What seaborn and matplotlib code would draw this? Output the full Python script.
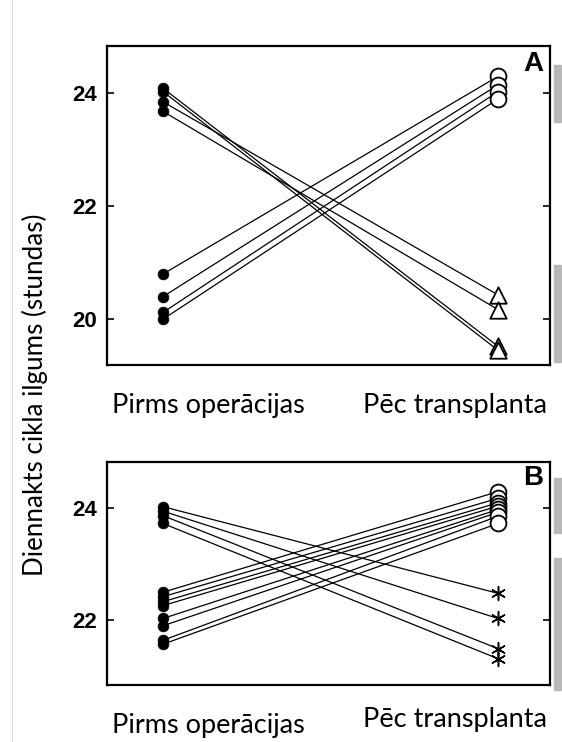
import numpy as np
import pandas as pd
import matplotlib
matplotlib.use("Agg")
import matplotlib.pyplot as plt
from matplotlib.patches import Rectangle
from matplotlib.lines import Line2D
import seaborn as sns

# ---------------- data ----------------
conditions = ["Pirms operācijas", "Pēc transplanta"]
ylabel = "Diennakts cikla ilgums (stundas)"

# Panel A
a_up_before = [20.80, 20.40, 20.12, 20.00]
a_up_after = [24.30, 24.15, 24.03, 23.90]
a_down_before = [24.09, 24.03, 23.85, 23.68]
a_down_after = [19.52, 19.45, 20.43, 20.17]

# Panel B
b_up_before = [22.50, 22.42, 22.33, 22.26, 22.03, 21.90, 21.64, 21.57]
b_up_after = [24.30, 24.18, 24.10, 24.04, 23.98, 23.93, 23.86, 23.73]
b_down_before = [24.03, 23.95, 23.87, 23.73]
b_down_after = [22.48, 22.03, 21.49, 21.31]

a_ticks = [20, 22, 24]
b_ticks = [22, 24]


def long_df(up_b, up_a, dn_b, dn_a):
    rows = []
    sid = 0
    for b, a in zip(up_b, up_a):
        rows.append((sid, 0, b, "before", "up"))
        rows.append((sid, 1, a, "after", "up"))
        sid += 1
    for b, a in zip(dn_b, dn_a):
        rows.append((sid, 0, b, "before", "down"))
        rows.append((sid, 1, a, "after", "down"))
        sid += 1
    return pd.DataFrame(rows, columns=["subject", "x", "y", "phase", "dir"])


dfA = long_df(a_up_before, a_up_after, a_down_before, a_down_after)
dfB = long_df(b_up_before, b_up_after, b_down_before, b_down_after)

sns.set_theme(style="white")
plt.rcParams["font.family"] = ["Liberation Sans", "DejaVu Sans"]
plt.rcParams["text.color"] = "black"

W, H = 562, 742
fig = plt.figure(figsize=(W / 100, H / 100), dpi=100)
fig.patch.set_facecolor("white")

axA = fig.add_axes([107 / W, 1 - 365 / H, 443 / W, 319 / H])
axB = fig.add_axes([107 / W, 1 - 685 / H, 443 / W, 223.3 / H])


def draw(ax, df, down_marker, ylim, ticks, label):
    sns.lineplot(data=df, x="x", y="y", units="subject", estimator=None,
                 color="black", lw=0.9, ax=ax, legend=False, zorder=2)
    bef = df[df.phase == "before"]
    sns.scatterplot(data=bef, x="x", y="y", ax=ax, marker="o", s=60,
                    color="black", edgecolor="black", linewidth=0.5,
                    legend=False, zorder=3)
    aft_up = df[(df.phase == "after") & (df.dir == "up")]
    sns.scatterplot(data=aft_up, x="x", y="y", ax=ax, marker="o", s=130,
                    facecolor="white", edgecolor="black", linewidth=1.3,
                    legend=False, zorder=3)
    aft_dn = df[(df.phase == "after") & (df.dir == "down")]
    if down_marker == "^":
        sns.scatterplot(data=aft_dn, x="x", y="y", ax=ax, marker="^", s=140,
                        facecolor="white", edgecolor="black", linewidth=1.3,
                        legend=False, zorder=3)
    else:
        sns.scatterplot(data=aft_dn, x="x", y="y", ax=ax, marker=(6, 2, 0),
                        s=100, color="black", linewidth=1.1,
                        legend=False, zorder=3)
    ax.set_xlim(-0.167, 1.155)
    ax.set_ylim(*ylim)
    ax.set_yticks(ticks)
    ax.set_yticklabels([str(t) for t in ticks], fontweight="bold", fontsize=16)
    ax.set_xticks([])
    ax.set_xlabel("")
    ax.set_ylabel("")
    ax.tick_params(axis="y", direction="in", length=5, width=1.2,
                   left=True, right=True, pad=7, colors="black")
    for sp in ax.spines.values():
        sp.set_color("black")
        sp.set_linewidth(1.6)
    ax.text(0.984, 0.985, label, transform=ax.transAxes, ha="right", va="top",
            fontsize=20, fontweight="bold", color="black")


draw(axA, dfA, "^", (19.19, 24.837), a_ticks, "A")
draw(axB, dfB, "*", (20.84, 24.835), b_ticks, "B")

lab_font = dict(family=["Lato", "DejaVu Sans"], fontsize=19.5, color="black")
fig.text(112 / W, 1 - 405 / H, conditions[0], ha="left", va="center", **lab_font)
fig.text(547 / W, 1 - 405 / H, conditions[1], ha="right", va="center", **lab_font)
fig.text(112 / W, 1 - 726 / H, conditions[0], ha="left", va="center", **lab_font)
fig.text(547 / W, 1 - 719 / H, conditions[1], ha="right", va="center", **lab_font)
fig.text(35 / W, 1 - 395 / H, ylabel, rotation=90, ha="center", va="center",
         family=["Lato", "DejaVu Sans"], fontsize=18.7, color="black")

# scan artefacts: grey strips at right edge and faint frame line
for y0, y1 in [(65, 122), (265, 362), (478, 533), (558, 690)]:
    fig.patches.append(Rectangle((554 / W, 1 - y1 / H), 8 / W, (y1 - y0) / H,
                                 transform=fig.transFigure, color="#b8b8b8",
                                 zorder=0))
fig.lines.append(Line2D([12 / W, 12 / W], [0, 1], transform=fig.transFigure,
                        color="#dddddd", lw=0.8))

fig.savefig("out.png", dpi=100)
